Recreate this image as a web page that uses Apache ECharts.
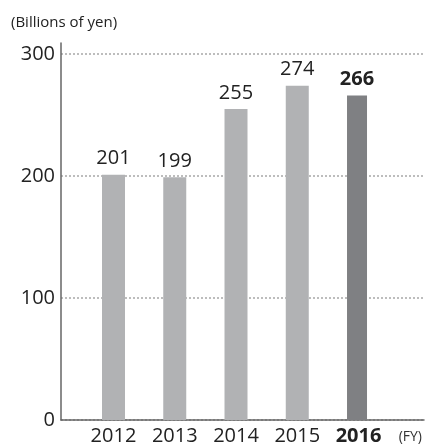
<!DOCTYPE html>
<html>
<head>
<meta charset="utf-8">
<script src="https://cdn.jsdelivr.net/npm/echarts@6/dist/echarts.min.js"></script>
<style>
  html, body { margin: 0; padding: 0; background: #fff; }
  #chart { width: 427px; height: 447px; }
</style>
</head>
<body>
<div id="chart"></div>
<script>
// Net sales by fiscal year (billions of yen)
const years = [2012, 2013, 2014, 2015, 2016];
const values = [201, 199, 255, 274, 266];
const highlightYear = 2016;
const yTicks = [0, 100, 200, 300];

const FONT = '"Open Sans", "Noto Sans", sans-serif';
const past = [];
const current = [];
years.forEach((y, i) => {
  (y === highlightYear ? current : past).push([y, values[i]]);
});

const chart = echarts.init(document.getElementById('chart'));
chart.setOption({
  animation: false,
  title: {
    text: '(Billions of yen)',
    left: 6, top: 10,
    textStyle: { fontFamily: FONT, fontSize: 15, fontWeight: 'normal', color: '#222' }
  },
  grid: { left: 61, right: 3, top: 43, bottom: 27, containLabel: false },
  xAxis: {
    type: 'value',
    min: 2011.143,
    max: 2017.069,
    name: '(FY)',
    nameLocation: 'end',
    nameGap: -2,
    nameTextStyle: {
      fontFamily: FONT, fontSize: 14, color: '#333',
      align: 'right', verticalAlign: 'top', padding: [10, 0, 0, 0]
    },
    axisLine: { show: true, lineStyle: { color: '#666', width: 1.5 } },
    axisTick: { show: false },
    splitLine: { show: false },
    axisLabel: {
      customValues: years,
      margin: 6,
      formatter: v => v === highlightYear ? '{b|' + v + '}' : '{a|' + v + '}',
      rich: {
        a: { fontFamily: FONT, fontSize: 20, color: '#222' },
        b: { fontFamily: FONT, fontSize: 20, fontWeight: 'bold', color: '#222' }
      }
    }
  },
  yAxis: {
    type: 'value',
    min: 0,
    max: 309,
    axisLine: { show: true, lineStyle: { color: '#666', width: 1.5 } },
    axisTick: { show: false, customValues: yTicks },
    axisLabel: {
      customValues: yTicks,
      margin: 6,
      fontFamily: FONT, fontSize: 20, color: '#222'
    },
    splitLine: { show: true, lineStyle: { color: '#a8a8a8', width: 1.5, type: [2, 2] } }
  },
  series: [
    {
      type: 'bar',
      data: current,
      barWidth: 20,
      barGap: '-100%',
      itemStyle: { color: '#7f8083' },
      label: {
        show: true, position: 'top', distance: 6,
        formatter: p => p.value[1],
        fontFamily: FONT, fontSize: 20, fontWeight: 'bold', color: '#222'
      }
    },
    {
      type: 'bar',
      data: past,
      barWidth: 23,
      barGap: '-100%',
      itemStyle: { color: '#b1b2b4' },
      label: {
        show: true, position: 'top', distance: 6,
        formatter: p => p.value[1],
        fontFamily: FONT, fontSize: 20, color: '#222'
      }
    }
  ]
});
</script>
</body>
</html>
